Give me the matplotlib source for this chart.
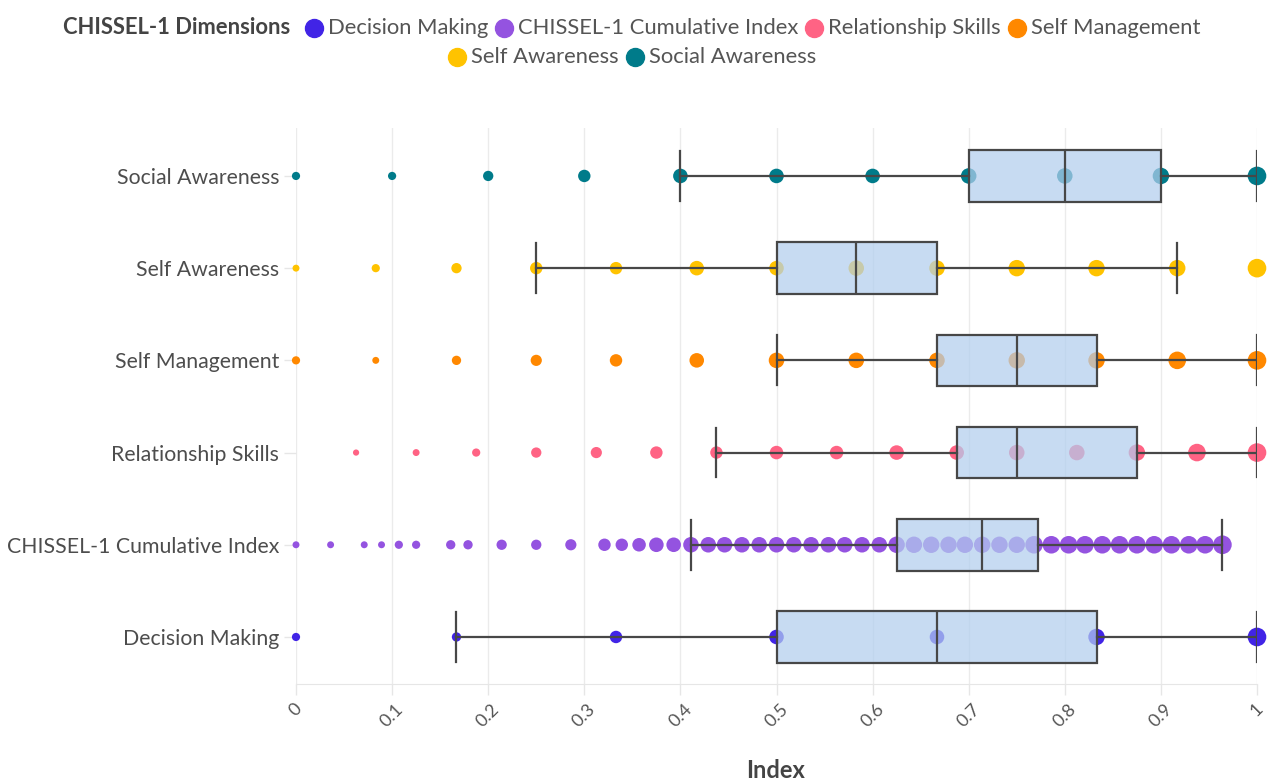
import matplotlib
matplotlib.use("Agg")
import matplotlib.pyplot as plt
from matplotlib.lines import Line2D

plt.rcParams['font.family'] = ['Lato', 'DejaVu Sans']

# ---- data -------------------------------------------------------------
dimensions = ["Decision Making", "CHISSEL-1 Cumulative Index", "Relationship Skills",
              "Self Management", "Self Awareness", "Social Awareness"]
colors = ["#4124E6", "#9453E0", "#FF6384", "#FF8800", "#FFC300", "#007B8A"]

# index scores observed per dimension and how many respondents had each score
dm_scores = [0, 0.167, 0.333, 0.5, 0.667, 0.833, 1.0]
dm_counts = [7, 9, 16, 22, 22, 28, 36]

cum_scores = [0, 0.036, 0.071, 0.089, 0.107, 0.125, 0.161, 0.179, 0.214, 0.25,
              0.286, 0.321, 0.339, 0.357, 0.375, 0.393, 0.411, 0.429, 0.446, 0.464,
              0.482, 0.5, 0.518, 0.536, 0.554, 0.571, 0.589, 0.607, 0.625, 0.643,
              0.661, 0.679, 0.696, 0.714, 0.732, 0.75, 0.768, 0.786, 0.804, 0.821,
              0.839, 0.857, 0.875, 0.893, 0.911, 0.929, 0.946, 0.964]
cum_counts = [5, 5, 5, 5, 7, 7, 9, 9, 11, 11,
              13, 16, 16, 19, 22, 22, 25, 25, 25, 25,
              25, 25, 25, 25, 25, 25, 25, 25, 28, 28,
              28, 28, 28, 28, 28, 28, 32, 32, 32, 32,
              32, 32, 32, 32, 32, 32, 32, 36]

rs_scores = [0.0625, 0.125, 0.1875, 0.25, 0.3125, 0.375, 0.4375, 0.5, 0.5625,
             0.625, 0.6875, 0.75, 0.8125, 0.875, 0.9375, 1.0]
rs_counts = [4, 5, 7, 11, 13, 16, 16, 19, 19, 22, 22, 25, 25, 28, 32, 36]

sm_scores = [0, 0.083, 0.167, 0.25, 0.333, 0.417, 0.5, 0.583, 0.667, 0.75, 0.833, 0.917, 1.0]
sm_counts = [7, 5, 9, 13, 16, 22, 25, 25, 25, 28, 28, 32, 36]

sa_scores = [0, 0.083, 0.167, 0.25, 0.333, 0.417, 0.5, 0.583, 0.667, 0.75, 0.833, 0.917, 1.0]
sa_counts = [5, 7, 11, 16, 16, 22, 22, 25, 25, 28, 28, 28, 36]

soc_scores = [0, 0.1, 0.2, 0.3, 0.4, 0.5, 0.6, 0.7, 0.8, 0.9, 1.0]
soc_counts = [7, 7, 11, 16, 22, 22, 22, 25, 25, 28, 36]

# box-plot summaries, same order as `dimensions`
q1 = [0.5, 0.625, 0.6875, 0.667, 0.5, 0.7]
medians = [0.667, 0.714, 0.75, 0.75, 0.583, 0.8]
q3 = [0.833, 0.772, 0.875, 0.833, 0.667, 0.9]
whisker_lo = [0.167, 0.411, 0.4375, 0.5, 0.25, 0.4]
whisker_hi = [1.0, 0.964, 1.0, 1.0, 0.917, 1.0]

x_ticks = [0, 0.1, 0.2, 0.3, 0.4, 0.5, 0.6, 0.7, 0.8, 0.9, 1]
x_tick_labels = ["0", "0.1", "0.2", "0.3", "0.4", "0.5", "0.6", "0.7", "0.8", "0.9", "1"]

score_sets = [dm_scores, cum_scores, rs_scores, sm_scores, sa_scores, soc_scores]
count_sets = [dm_counts, cum_counts, rs_counts, sm_counts, sa_counts, soc_counts]

# ---- figure -----------------------------------------------------------
W, H = 1269, 781
fig = plt.figure(figsize=(W / 100, H / 100), dpi=100)
ax = fig.add_axes([296 / W, 1 - 684 / H, 961 / W, 556 / H])

# respondent dots: marker area proportional to count
for i, (scores, counts) in enumerate(zip(score_sets, count_sets)):
    ax.scatter(scores, [i] * len(scores), s=[5.0 * c for c in counts],
               color=colors[i], linewidths=0, zorder=2, clip_on=False)

edge = "#474747"
stats = [dict(q1=a, med=m, q3=b, whislo=lo, whishi=hi, fliers=[])
         for a, m, b, lo, hi in zip(q1, medians, q3, whisker_lo, whisker_hi)]
ax.bxp(stats, positions=list(range(len(dimensions))), widths=0.56, capwidths=0.54,
       orientation='horizontal', patch_artist=True, showfliers=False,
       manage_ticks=False, zorder=3,
       boxprops=dict(facecolor=(178 / 255, 206 / 255, 238 / 255, 0.72),
                     edgecolor=edge, linewidth=1.6),
       medianprops=dict(color=edge, linewidth=1.6),
       whiskerprops=dict(color=edge, linewidth=1.6),
       capprops=dict(color=edge, linewidth=1.6))

ax.set_xlim(0, 1)
ax.set_ylim(-0.51, 5.52)
ax.set_xticks(x_ticks, x_tick_labels)
ax.set_yticks(list(range(len(dimensions))), dimensions)
ax.grid(axis='x', color='#ebebeb', linewidth=1)
ax.set_axisbelow(True)
for side in ('top', 'right', 'left'):
    ax.spines[side].set_visible(False)
ax.spines['bottom'].set_color('#e6e6e6')
ax.tick_params(axis='y', length=9, width=1, color='#e6e6e6', pad=3,
               labelsize=15.3, labelcolor='#4d4d4d')
ax.tick_params(axis='x', length=8, width=1, color='#e6e6e6', pad=4,
               labelsize=13, labelcolor='#555555', labelrotation=45)

fig.text(776 / W, 1 - 771 / H, "Index", ha='center', va='center',
         fontsize=17, fontweight='bold', color='#444444')

# ---- legend laid out in two centred rows --------------------------------
fig.canvas.draw()
renderer = fig.canvas.get_renderer()

legend_rows = [[0, 1, 2, 3], [4, 5]]
row_y = [28, 57]
dot_d = 18
dot_gap = 5
item_gap = 7
title_gap = 14
cx = 632
legend_fs = 15.8

for r, (idxs, ypx) in enumerate(zip(legend_rows, row_y)):
    yf = 1 - ypx / H
    parts = []
    if r == 0:
        t = fig.text(0, yf, "CHISSEL-1 Dimensions", ha='left', va='center',
                     fontsize=legend_fs, fontweight='bold', color='#444444')
        parts.append(('title', t, t.get_window_extent(renderer).width))
    for k in idxs:
        t = fig.text(0, yf, dimensions[k], ha='left', va='center',
                     fontsize=legend_fs, color='#555555')
        parts.append((k, t, t.get_window_extent(renderer).width))
    total = 0
    for j, (kind, t, w) in enumerate(parts):
        if kind == 'title':
            total += w + title_gap
        else:
            total += dot_d + dot_gap + w + (item_gap if j < len(parts) - 1 else 0)
    x = cx - total / 2
    for j, (kind, t, w) in enumerate(parts):
        if kind == 'title':
            t.set_x(x / W)
            x += w + title_gap
        else:
            fig.add_artist(Line2D([(x + dot_d / 2) / W], [yf], marker='o',
                                  markersize=dot_d * 0.72, color=colors[kind],
                                  linestyle='none', transform=fig.transFigure))
            x += dot_d + dot_gap
            t.set_x(x / W)
            x += w + item_gap

fig.savefig("out.png", dpi=100)
